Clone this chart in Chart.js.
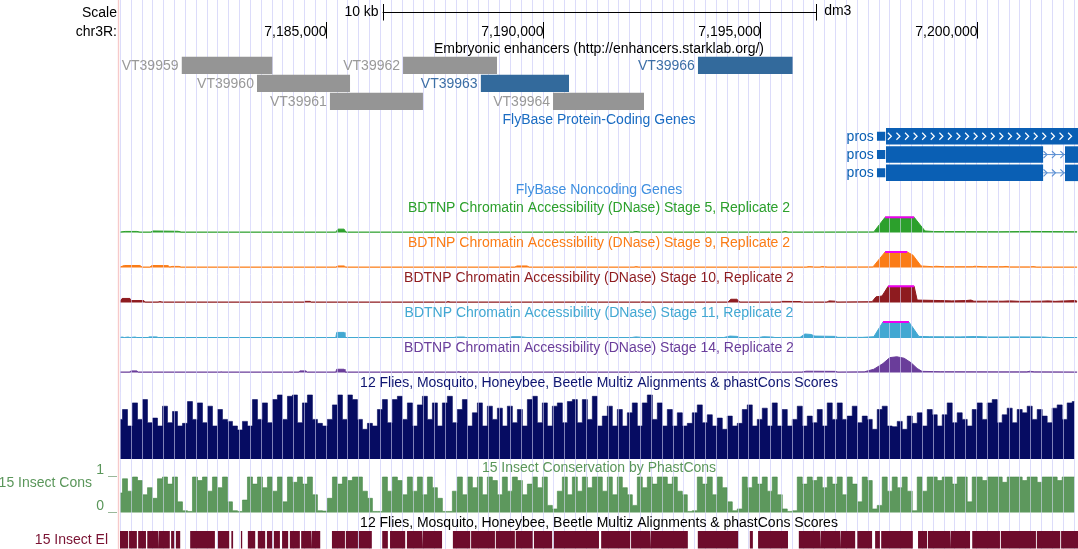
<!DOCTYPE html>
<html>
<head>
<meta charset="utf-8">
<script src="https://cdn.jsdelivr.net/npm/chart.js@4.4.1/dist/chart.umd.min.js"></script>
<style>
  html, body { margin: 0; padding: 0; background: #ffffff; }
  #wrap { width: 1078px; height: 549px; position: relative; }
</style>
</head>
<body>
<div id="wrap"><canvas id="browser"></canvas></div>
<script>
// Genomic positions are kb offsets from chr3R:7,180,000
const ORIGIN = 7180000;
const VIEW = [7180241, 7202340];

// Embryonic enhancers (VT tiles)
const enhancerNames = ['VT39959', 'VT39960', 'VT39961', 'VT39962', 'VT39963', 'VT39964', 'VT39966'];
const enhancerSpans = [[1.66, 3.76], [3.40, 5.55], [5.08, 7.23], [6.77, 8.94], [8.56, 10.60], [10.23, 12.33], [13.57, 15.76]];
const enhancerRows = [0, 1, 2, 0, 1, 2, 0];
const enhancerActive = [false, false, false, false, true, false, true];

// FlyBase protein-coding gene "pros" (3 transcripts, + strand)
const prosUtr = [17.70, 17.90];
const prosExons = [
    [[17.91, 22.60]],
    [[17.91, 21.54], [22.04, 22.60]],
    [[17.91, 21.54], [22.04, 22.60]]
];

// BDTNP DNase signal, [kb, value], 1 = view limit (clipped above)
const stage5 = [[0.24,0.03],[0.36,0.07],[0.63,0.07],[0.70,0.03],[0.95,0.03],[1.00,0.1],[1.58,0.08],[1.65,0.03],[5.22,0.03],[5.27,0.22],[5.41,0.22],[5.45,0.03],[12.07,0.03],[12.14,0.07],[12.24,0.03],[15.51,0.03],[15.58,0.06],[15.65,0.03],[17.63,0.04],[17.89,1],[18.56,1],[18.81,0.1],[19.04,0.06],[20.54,0.05],[21.23,0.07],[22.32,0.05]];
const stage9 = [[0.24,0.03],[0.34,0.13],[0.70,0.13],[0.75,0.03],[0.93,0.03],[0.98,0.13],[1.35,0.12],[1.39,0.03],[1.44,0.07],[1.60,0.07],[1.65,0.03],[5.22,0.03],[5.27,0.1],[5.41,0.1],[5.45,0.03],[9.35,0.03],[9.40,0.1],[9.63,0.1],[9.68,0.03],[12.10,0.03],[12.14,0.06],[12.21,0.03],[16.07,0.03],[16.14,0.06],[16.27,0.03],[16.39,0.03],[16.43,0.06],[16.57,0.03],[17.61,0.04],[17.89,1],[18.40,1],[18.53,0.8],[18.72,0.1],[18.99,0.05],[19.06,0.08],[19.27,0.05],[19.90,0.05],[19.96,0.08],[20.15,0.05],[20.61,0.05],[20.68,0.07],[20.77,0.04],[21.23,0.04],[21.30,0.06],[21.39,0.03],[22.32,0.03]];
const stage10 = [[0.24,0.05],[0.29,0.25],[0.47,0.25],[0.49,0.12],[0.79,0.12],[0.82,0.03],[1.12,0.03],[1.16,0.06],[1.21,0.03],[4.49,0.03],[4.51,0.07],[4.63,0.07],[4.65,0.03],[7.78,0.03],[7.81,0.06],[7.83,0.03],[12.28,0.03],[12.31,0.05],[12.35,0.03],[14.27,0.03],[14.33,0.2],[14.47,0.2],[14.54,0.03],[15.47,0.03],[15.51,0.07],[15.93,0.06],[15.97,0.03],[16.55,0.03],[16.60,0.1],[16.74,0.08],[16.78,0.03],[17.59,0.05],[17.68,0.35],[17.82,0.4],[17.96,1],[18.56,1],[18.63,0.15],[19.16,0.12],[19.43,0.1],[19.76,0.12],[19.87,0.15],[19.94,0.08],[20.61,0.08],[20.77,0.1],[21.00,0.07],[21.49,0.08],[21.65,0.1],[21.81,0.07],[22.04,0.1],[22.27,0.12],[22.32,0.08]];
const stage11 = [[0.24,0.03],[0.29,0.06],[0.34,0.03],[0.43,0.06],[0.47,0.03],[0.59,0.06],[0.63,0.03],[0.89,0.03],[0.91,0.07],[1.09,0.07],[1.12,0.03],[4.21,0.03],[4.23,0.05],[4.26,0.03],[5.22,0.03],[5.24,0.35],[5.41,0.35],[5.43,0.03],[7.95,0.03],[7.99,0.06],[8.18,0.06],[8.22,0.03],[9.21,0.03],[9.28,0.08],[9.47,0.08],[9.63,0.03],[12.05,0.03],[12.14,0.07],[12.31,0.03],[14.17,0.03],[14.31,0.12],[14.47,0.1],[14.54,0.03],[14.98,0.03],[15.08,0.08],[15.28,0.06],[15.35,0.03],[15.93,0.04],[16.04,0.25],[16.18,0.22],[16.27,0.12],[16.74,0.1],[16.80,0.04],[17.36,0.04],[17.63,0.08],[17.84,1],[18.44,1],[18.67,0.1],[18.92,0.08],[19.62,0.07],[19.96,0.09],[20.31,0.06],[21.00,0.07],[21.56,0.06],[21.70,0.03],[22.32,0.03]];
const stage14 = [[0.24,0.03],[0.47,0.03],[0.49,0.1],[0.63,0.1],[0.66,0.03],[2.55,0.03],[2.57,0.05],[2.59,0.03],[4.37,0.03],[4.39,0.1],[4.53,0.1],[4.56,0.03],[5.22,0.03],[5.24,0.2],[5.41,0.2],[5.43,0.03],[8.02,0.03],[8.04,0.05],[8.06,0.03],[12.12,0.03],[12.14,0.05],[12.17,0.03],[15.97,0.03],[16.07,0.08],[16.74,0.07],[16.80,0.03],[17.41,0.04],[17.63,0.2],[17.84,0.55],[18.00,0.92],[18.16,0.97],[18.33,0.88],[18.49,0.6],[18.63,0.25],[18.74,0.07],[19.16,0.05],[20.54,0.04],[21.16,0.04],[21.23,0.08],[21.33,0.04],[22.32,0.03]];

// Conservation scores sampled in 115.3 bp bins from 7,180,241
const CONS_START = 7180241;
const CONS_STEP = 115.3;
const multizScores = [
    0.6,0.75,0.5,0.85,0.6,0.9,0.55,0.62,0.5,0.8,0.55,0.72,0.5,0.54,0.87,0.6,0.85,0.55,0.8,0.5,0.75,0.6,0.57,0.5,0.44,0.57,0.5,0.9,0.6,0.85,0.55,0.9,0.97,0.6,0.95,0.97,0.55,0.85,0.97,0.6,0.54,0.5,0.6,0.82,0.97,0.6,0.97,0.9,
    0.6,0.45,0.54,0.5,0.75,0.9,0.55,0.9,0.95,0.6,0.85,0.5,0.82,0.95,0.6,0.85,0.5,0.85,0.95,0.55,0.75,0.9,0.5,0.7,0.85,0.5,0.8,0.6,0.77,0.5,0.8,0.55,0.75,0.5,0.9,0.95,0.55,0.85,0.5,0.8,0.85,0.55,0.87,0.9,0.55,0.9,0.6,0.95,
    0.5,0.65,0.8,0.5,0.75,0.5,0.7,0.85,0.5,0.85,0.97,0.6,0.85,0.5,0.75,0.5,0.7,0.5,0.54,0.7,0.82,0.55,0.67,0.5,0.62,0.45,0.65,0.5,0.54,0.75,0.82,0.5,0.6,0.77,0.5,0.85,0.5,0.75,0.5,0.6,0.8,0.5,0.65,0.55,0.75,0.5,0.85,0.6,
    0.85,0.6,0.65,0.8,0.55,0.65,0.6,0.45,0.75,0.8,0.5,0.49,0.57,0.45,0.65,0.54,0.7,0.5,0.75,0.67,0.5,0.67,0.85,0.55,0.7,0.6,0.5,0.75,0.85,0.6,0.85,0.9,0.55,0.67,0.77,0.55,0.75,0.7,0.8,0.6,0.75,0.65,0.55,0.77,0.82,0.6,0.85,0.87
];
const phastScores = [
    0.55,0.95,0.6,1.0,0.9,0.5,0.7,0.4,0.95,1.0,0.8,1.0,0.3,0.05,0.03,1.0,0.9,1.0,0.6,1.0,0.7,1.0,0.3,0.05,0.03,0.35,1.0,0.8,1.0,0.7,1.0,0.6,1.0,0.3,1.0,0.85,1.0,0.8,1.0,0.5,0.05,0.04,0.4,1.0,0.8,1.0,0.9,1.0,
    1.0,0.6,0.4,0.03,0.03,1.0,0.6,1.0,0.9,0.5,1.0,0.6,1.0,0.5,1.0,0.7,0.4,0.03,0.03,0.6,1.0,0.5,1.0,0.7,1.0,0.5,1.0,0.9,0.5,1.0,0.6,1.0,0.9,0.5,0.8,1.0,0.7,1.0,0.2,0.1,0.6,1.0,0.5,1.0,0.6,1.0,0.7,1.0,
    1.0,0.6,1.0,0.5,1.0,0.7,0.5,0.2,1.0,0.7,1.0,0.8,1.0,1.0,0.8,1.0,0.6,0.5,0.03,0.05,1.0,0.8,1.0,0.5,1.0,0.7,0.3,0.05,0.1,1.0,0.7,1.0,0.8,1.0,0.6,1.0,0.5,0.1,0.03,0.05,1.0,0.8,1.0,0.9,1.0,0.7,1.0,0.8,
    1.0,0.5,1.0,0.8,0.3,1.0,0.9,0.1,0.2,1.0,0.6,1.0,0.7,1.0,0.6,0.05,1.0,0.6,1.0,1.0,0.9,1.0,1.0,0.8,1.0,1.0,0.3,1.0,1.0,0.9,1.0,1.0,1.0,0.85,1.0,1.0,1.0,0.9,1.0,1.0,0.85,1.0,1.0,1.0,0.9,1.0,1.0,1.0
];

// 15 insect conserved elements, [start kb, end kb]
const elements = [[0.24,0.43],[0.45,0.63],[0.66,0.84],[0.87,1.12],[1.14,1.39],[1.42,1.49],[1.53,1.63],[1.86,2.43],[2.50,2.76],[2.81,2.85],[3.03,3.06],[3.19,3.36],[3.42,3.59],[3.63,3.75],[3.79,3.93],[3.98,4.12],[4.16,4.39],[4.42,4.65],[4.67,4.86],[5.13,5.43],[5.45,5.73],[5.75,6.05],[6.29,6.42],[6.47,6.82],[6.86,7.21],[7.23,7.67],[7.92,8.32],[8.34,8.89],[8.91,9.35],[9.37,9.76],[9.79,10.21],[10.25,11.29],[11.34,12.01],[12.03,12.47],[12.49,13.34],[13.57,14.50],[14.77,14.84],[14.96,15.65],[15.90,16.39],[16.41,16.85],[16.87,17.20],[17.25,17.59],[17.66,17.77],[17.80,18.53],[18.65,18.86],[18.88,19.39],[19.41,19.85],[19.90,20.54],[20.56,21.37],[21.39,21.93],[21.95,22.34]];

// Ruler
const chromTicks = [7185000, 7190000, 7195000, 7200000];
const scaleBar = [7186300, 7196300];

// ---- layout (pixels) ----
const H = 549;
const FONT = '14px "Liberation Sans", Arial, Helvetica, sans-serif';
const ENH_TOP = 56.7, ENH_H = 17.3, ENH_STEP = 18;
const GENE_TOP = 128, GENE_H = 16.5, GENE_STEP = 18.3;
const GENE_BLUE = '#0a5fb4';

const dnaseTracks = [
    { id: 'd5', points: stage5, color: '#2ca02c', zero: 232.5, one: 217.3, title: 'BDTNP Chromatin Accessibility (DNase) Stage 5, Replicate 2', titleY: 208.5 },
    { id: 'd9', points: stage9, color: '#fb7c16', zero: 267.5, one: 252, title: 'BDTNP Chromatin Accessibility (DNase) Stage 9, Replicate 2', titleY: 243 },
    { id: 'd10', points: stage10, color: '#8e1b1f', zero: 302.5, one: 286.3, title: 'BDTNP Chromatin Accessibility (DNase) Stage 10, Replicate 2', titleY: 278 },
    { id: 'd11', points: stage11, color: '#42a8d2', zero: 338, one: 322, title: 'BDTNP Chromatin Accessibility (DNase) Stage 11, Replicate 2', titleY: 313.5 },
    { id: 'd14', points: stage14, color: '#6a3d9a', zero: 372.5, one: 356.3, title: 'BDTNP Chromatin Accessibility (DNase) Stage 14, Replicate 2', titleY: 348.5 }
];

function kbToBp(kb) {
    return ORIGIN + kb * 1000;
}

// y scale so that value 0 sits on zeroPx and value 1 on onePx
function band(zeroPx, onePx) {
    const per = zeroPx - onePx;
    return {
        type: 'linear', axis: 'y', position: 'left', display: false,
        min: -(H - zeroPx) / per, max: zeroPx / per
    };
}

function rectDataset(s, e, top, bottom, color) {
    return {
        type: 'line', yAxisID: 'px',
        data: [{ x: kbToBp(s), y: top }, { x: kbToBp(e), y: top }],
        fill: { value: bottom }, backgroundColor: color,
        borderWidth: 0, pointRadius: 0, order: 2
    };
}

function buildDatasets() {
    const sets = [];

    // Enhancer boxes
    enhancerNames.forEach((name, i) => {
        const top = ENH_TOP + enhancerRows[i] * ENH_STEP;
        const [s, e] = enhancerSpans[i];
        sets.push(rectDataset(s, e, top, top + ENH_H, enhancerActive[i] ? '#336a9c' : '#959595'));
    });

    // Gene models
    prosExons.forEach((exons, r) => {
        const top = GENE_TOP + r * GENE_STEP;
        const mid = top + GENE_H / 2;
        sets.push(rectDataset(prosUtr[0], prosUtr[1], mid - 4.5, mid + 4.5, GENE_BLUE));
        exons.forEach(([s, e]) => sets.push(rectDataset(s, e, top, top + GENE_H, GENE_BLUE)));
        for (let j = 1; j < exons.length; j++) {
            sets.push({
                type: 'line', yAxisID: 'px',
                data: [{ x: kbToBp(exons[j - 1][1]), y: mid }, { x: kbToBp(exons[j][0]), y: mid }],
                borderColor: '#5b90d2', borderWidth: 1, pointRadius: 0, fill: false, order: 2
            });
        }
    });

    // DNase signals, with magenta where the signal is clipped
    dnaseTracks.forEach(t => {
        sets.push({
            type: 'line', yAxisID: t.id,
            data: t.points.map(([k, v]) => ({ x: kbToBp(k), y: Math.min(v, 1) })),
            borderColor: t.color, backgroundColor: t.color, borderWidth: 1,
            fill: 'origin', pointRadius: 0, tension: 0, stripes: true, order: 1
        });
        sets.push({
            type: 'line', yAxisID: t.id,
            data: t.points.map(([k, v]) => ({ x: kbToBp(k), y: v >= 1 ? 1 : null })),
            borderColor: '#f000f0', borderWidth: 2, fill: false, pointRadius: 0,
            spanGaps: false, order: 0
        });
    });

    // Multiz / phastCons scores, drawn as bins
    sets.push({
        type: 'line', yAxisID: 'multiz',
        data: multizScores.map((v, i) => ({ x: CONS_START + i * CONS_STEP, y: v })),
        borderColor: '#060c62', backgroundColor: '#060c62', borderWidth: 0.6,
        fill: 'origin', pointRadius: 0, stepped: 'middle', stripes: true, order: 1
    });
    sets.push({
        type: 'line', yAxisID: 'phast',
        data: phastScores.map((v, i) => ({ x: CONS_START + i * CONS_STEP, y: v })),
        borderColor: '#468a46', backgroundColor: '#5d985d', borderWidth: 0.6,
        fill: 'origin', pointRadius: 0, stepped: 'middle', stripes: true, order: 1
    });

    // Conserved elements as a square wave
    sets.push({
        type: 'line', yAxisID: 'elem',
        data: elements.flatMap(([s, e]) => [
            { x: kbToBp(s), y: 0 }, { x: kbToBp(s), y: 1 },
            { x: kbToBp(e), y: 1 }, { x: kbToBp(e), y: 0 }
        ]),
        backgroundColor: '#6e0c2c', borderWidth: 0, fill: 'origin',
        pointRadius: 0, tension: 0, order: 1
    });

    return sets;
}

function buildScales() {
    const scales = {
        x: {
            type: 'linear', min: VIEW[0], max: VIEW[1],
            grid: { color: '#dcdcfa', lineWidth: 1, drawTicks: false },
            border: { display: false },
            ticks: { display: false, stepSize: 250, includeBounds: false, autoSkip: false },
            afterFit: s => { s.height = 0; }
        },
        px: { type: 'linear', axis: 'y', position: 'left', display: false, min: 0, max: H, reverse: true },
        multiz: band(459, 393),
        phast: band(512.5, 477),
        elem: band(548.5, 531)
    };
    dnaseTracks.forEach(t => { scales[t.id] = band(t.zero, t.one); });
    return scales;
}

function text(ctx, str, x, y, color, align) {
    ctx.fillStyle = color;
    ctx.textAlign = align || 'center';
    ctx.textBaseline = 'middle';
    ctx.fillText(str, x, y);
}

function chevron(ctx, x, y, color) {
    ctx.strokeStyle = color;
    ctx.lineWidth = 1.2;
    ctx.beginPath();
    ctx.moveTo(x - 2, y - 3.5);
    ctx.lineTo(x + 1.5, y);
    ctx.lineTo(x - 2, y + 3.5);
    ctx.stroke();
}

// Guideline stripes that show through the wiggle tracks
const stripePlugin = {
    id: 'stripes',
    afterDatasetDraw(chart, args) {
        const ds = chart.data.datasets[args.index];
        if (!ds.stripes) return;
        const ctx = chart.ctx, xs = chart.scales.x, ys = chart.scales[ds.yAxisID];
        const area = chart.chartArea;
        const top = ys.getPixelForValue(1) - 1, bottom = ys.getPixelForValue(0) + 1;
        ctx.save();
        ctx.beginPath();
        ctx.rect(area.left, top, area.right - area.left, bottom - top);
        ctx.clip();
        ctx.globalCompositeOperation = 'source-atop';
        ctx.strokeStyle = 'rgba(225,225,255,0.55)';
        ctx.lineWidth = 1;
        xs.ticks.forEach(t => {
            const px = Math.round(xs.getPixelForValue(t.value) - 0.5) + 0.5;
            ctx.beginPath();
            ctx.moveTo(px, top);
            ctx.lineTo(px, bottom);
            ctx.stroke();
        });
        ctx.restore();
    }
};

// Ruler, track titles, feature labels
const decorPlugin = {
    id: 'decor',
    afterDraw(chart) {
        const ctx = chart.ctx, xs = chart.scales.x;
        const cx = (chart.chartArea.left + chart.chartArea.right) / 2;
        ctx.save();
        ctx.font = FONT;

        // side divider
        ctx.fillStyle = '#f7caca';
        ctx.fillRect(117.8, 0, 1.4, H);

        // scale bar
        const b0 = xs.getPixelForValue(scaleBar[0]), b1 = xs.getPixelForValue(scaleBar[1]);
        ctx.strokeStyle = '#000';
        ctx.lineWidth = 1;
        ctx.beginPath();
        ctx.moveTo(b0, 12.5); ctx.lineTo(b1, 12.5);
        ctx.moveTo(Math.round(b0) + 0.5, 4); ctx.lineTo(Math.round(b0) + 0.5, 20.5);
        ctx.moveTo(Math.round(b1) + 0.5, 4); ctx.lineTo(Math.round(b1) + 0.5, 20.5);
        ctx.stroke();
        text(ctx, 'Scale', 117, 13, '#000', 'right');
        text(ctx, '10 kb', b0 - 4, 12, '#000', 'right');
        text(ctx, 'dm3', b1 + 8, 11.5, '#000', 'left');

        // chromosome ticks
        text(ctx, 'chr3R:', 117, 32.5, '#000', 'right');
        chromTicks.forEach(v => {
            const px = Math.round(xs.getPixelForValue(v)) + 0.5;
            ctx.beginPath();
            ctx.moveTo(px, 22); ctx.lineTo(px, 38.5);
            ctx.stroke();
            text(ctx, v.toLocaleString('en-US'), px, 32, '#000', 'right');
        });

        // enhancers
        text(ctx, 'Embryonic enhancers (http://enhancers.starklab.org/)', cx, 49.5, '#000');
        enhancerNames.forEach((name, i) => {
            const y = ENH_TOP + enhancerRows[i] * ENH_STEP + ENH_H / 2 + 0.5;
            const px = xs.getPixelForValue(kbToBp(enhancerSpans[i][0]));
            text(ctx, name, px - 3, y, enhancerActive[i] ? '#3d6fa6' : '#999999', 'right');
        });

        // genes
        text(ctx, 'FlyBase Protein-Coding Genes', cx, 120, '#1a6cc2');
        prosExons.forEach((exons, r) => {
            const mid = GENE_TOP + r * GENE_STEP + GENE_H / 2;
            text(ctx, 'pros', xs.getPixelForValue(kbToBp(prosUtr[0])) - 3, mid + 0.5, GENE_BLUE, 'right');
            if (exons.length === 1) {
                for (let k = 18.00; k < exons[0][1] && k < 22.2; k += 0.198) {
                    chevron(ctx, xs.getPixelForValue(kbToBp(k)), mid, '#ffffff');
                }
            } else {
                for (let j = 1; j < exons.length; j++) {
                    for (let k = exons[j - 1][1] + 0.05; k < exons[j][0] - 0.05; k += 0.195) {
                        chevron(ctx, xs.getPixelForValue(kbToBp(k)), mid, '#5b90d2');
                    }
                }
            }
        });
        text(ctx, 'FlyBase Noncoding Genes', cx, 190.5, '#3f8fe0');

        // DNase titles
        dnaseTracks.forEach(t => text(ctx, t.title, cx, t.titleY, t.color));

        // conservation
        text(ctx, '12 Flies, Mosquito, Honeybee, Beetle Multiz Alignments & phastCons Scores', cx, 383.5, '#0d1470');
        text(ctx, '15 Insect Conservation by PhastCons', cx, 468.5, '#5a965a');
        text(ctx, '15 Insect Cons', 92, 483, '#5a965a', 'right');
        text(ctx, '1', 104, 470, '#5a965a', 'right');
        text(ctx, '0', 104, 506, '#5a965a', 'right');
        ctx.strokeStyle = '#9ab89a';
        ctx.beginPath();
        ctx.moveTo(108, 476.5); ctx.lineTo(117, 476.5);
        ctx.moveTo(108, 512.5); ctx.lineTo(117, 512.5);
        ctx.stroke();
        text(ctx, '12 Flies, Mosquito, Honeybee, Beetle Multiz Alignments & phastCons Scores', cx, 523, '#000');
        text(ctx, '15 Insect El', 108, 540, '#7a1232', 'right');

        ctx.restore();
    }
};

document.addEventListener('DOMContentLoaded', function() {
    const ctx = document.getElementById('browser').getContext('2d');
    window.browserChart = new Chart(ctx, {
        type: 'line',
        data: { datasets: buildDatasets() },
        options: {
            animation: false,
            responsive: true,
            maintainAspectRatio: false,
            events: [],
            layout: { padding: { left: 120, right: 0, top: 0, bottom: 0 } },
            plugins: { legend: { display: false }, tooltip: { enabled: false } },
            scales: buildScales()
        },
        plugins: [stripePlugin, decorPlugin]
    });
});
</script>
</body>
</html>
